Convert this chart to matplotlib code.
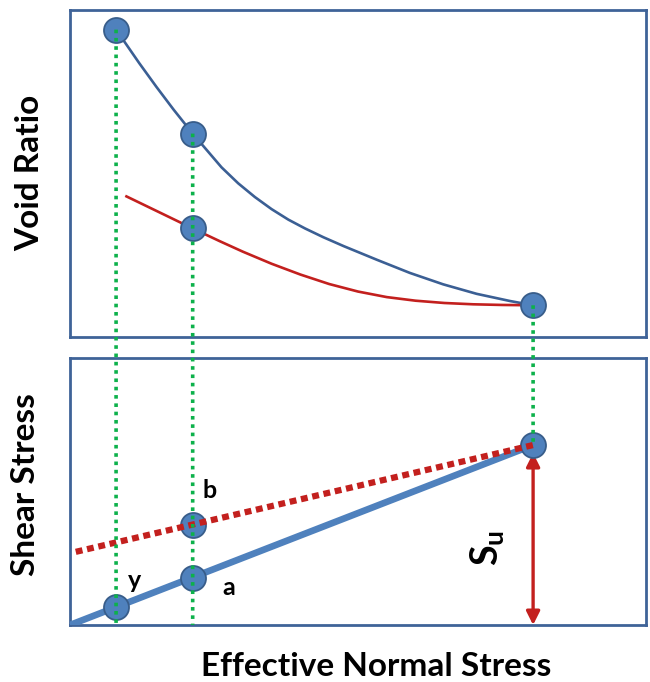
import matplotlib
matplotlib.use("Agg")
import matplotlib.pyplot as plt
from matplotlib.patches import ConnectionPatch

plt.rcParams["font.family"] = ["Lato", "DejaVu Sans"]
plt.rcParams["mathtext.fontset"] = "custom"
plt.rcParams["mathtext.bf"] = "Lato:bold"
plt.rcParams["mathtext.rm"] = "Lato:bold"

# Normal compression line (void ratio vs effective normal stress)
ncl_stress = [0.8, 1.2, 1.5, 1.8, 2.13, 2.63, 2.92, 3.21, 3.5, 3.79, 4.08,
              4.4, 4.75, 5.33, 5.9, 6.48, 7.06, 7.64, 8.04]
ncl_void = [0.94, 0.838, 0.765, 0.695, 0.622, 0.519, 0.470, 0.428, 0.391, 0.359, 0.332,
            0.305, 0.278, 0.236, 0.196, 0.161, 0.132, 0.110, 0.097]

# Unload/reload line
url_stress = [0.98, 2.13, 2.6, 3.0, 3.5, 4.0, 4.5, 5.0, 5.5, 6.0, 6.5, 7.0, 7.5, 8.04]
url_void = [0.43, 0.332, 0.293, 0.261, 0.224, 0.191, 0.162, 0.139, 0.122, 0.111,
            0.104, 0.100, 0.098, 0.097]

# States marked on the void ratio plot
state_stress = [0.8, 2.13, 2.13, 8.04]
state_void = [0.94, 0.622, 0.332, 0.097]

# Failure envelopes
env_stress = [0.0, 8.04]
env_shear = [0.0, 0.674]
od_stress = [0.1, 8.04]
od_shear = [0.274, 0.674]

# Points on the shear stress plot
pt_labels = ["y", "a", "b"]
pt_stress = [0.8, 2.13, 2.13]
pt_shear = [0.067, 0.176, 0.375]
su_stress = 8.04
su_shear = 0.674

BLUE_DARK = "#3B5F94"
BLUE = "#4F81BD"
RED = "#C3201E"
GREEN = "#0DB14B"
FRAME = "#3F6398"

fig = plt.figure(figsize=(6.5, 6.82), dpi=100)
ax1 = fig.add_axes([70 / 650, 1 - 337 / 682, 576 / 650, 327 / 682])
ax2 = fig.add_axes([70 / 650, 1 - 625 / 682, 576 / 650, 267 / 682])

for ax in (ax1, ax2):
    ax.set_xlim(0, 10)
    ax.set_ylim(0, 1)
    ax.set_xticks([])
    ax.set_yticks([])
    for s in ax.spines.values():
        s.set_color(FRAME)
        s.set_linewidth(2.0)

marker_kw = dict(marker="o", ms=18, mfc=BLUE, mec="#385D8A", mew=1.3, ls="none", zorder=5)

# Top panel: void ratio
ax1.plot(ncl_stress, ncl_void, color=BLUE_DARK, lw=1.9, solid_joinstyle="round", zorder=3)
ax1.plot(url_stress, url_void, color=RED, lw=1.9, solid_joinstyle="round", zorder=3)
ax1.plot(state_stress, state_void, **marker_kw)

# Bottom panel: shear stress
ax2.plot(env_stress, env_shear, color=BLUE, lw=4.8, solid_capstyle="butt", zorder=3)
ax2.plot(pt_stress[:2], pt_shear[:2], **marker_kw)
ax2.plot([pt_stress[2]], [pt_shear[2]], **marker_kw)
ax2.plot([su_stress], [su_shear], **marker_kw)
ax2.plot(od_stress, od_shear, color=RED, lw=4.5, ls=(0, (1.1, 0.75)),
         dash_capstyle="butt", zorder=6)

offsets = {"y": (13, 19), "a": (26, -7), "b": (12, 25)}
for lab, xs, ys in zip(pt_labels, pt_stress, pt_shear):
    ax2.annotate(lab, (xs, ys), xytext=offsets[lab], textcoords="offset points",
                 ha="center", va="center", fontsize=18, fontweight="bold", zorder=8)

# Undrained strength arrow
ax2.annotate("", xy=(su_stress, su_shear - 0.03), xytext=(su_stress, 0.0),
             arrowprops=dict(arrowstyle="<|-|>", color=RED, lw=2.4,
                             mutation_scale=20, shrinkA=0, shrinkB=0), zorder=4)
ax2.text(su_stress - 0.8, su_shear * 0.43, r"$\mathbf{S_u}$", rotation=90,
         ha="center", va="center", fontsize=27, zorder=8)

# Projection lines linking the two panels
for xs, ye, yb in [(state_stress[0], state_void[0], 0.0),
                   (state_stress[1], state_void[1], 0.0),
                   (state_stress[3], state_void[3], su_shear)]:
    cp = ConnectionPatch(xyA=(xs, ye), coordsA="data", axesA=ax1,
                         xyB=(xs, yb), coordsB="data", axesB=ax2,
                         color=GREEN, lw=2.6, linestyle=(0, (1.0, 1.3)),
                         capstyle="butt", zorder=10)
    fig.add_artist(cp)

fig.text(30 / 650, 1 - 173 / 682, "Void Ratio", rotation=90, ha="center", va="center",
         fontsize=24, fontweight="bold")
fig.text(26 / 650, 1 - 485 / 682, "Shear Stress", rotation=90, ha="center", va="center",
         fontsize=24, fontweight="bold")
fig.text(376 / 650, 1 - 666 / 682, "Effective Normal Stress", ha="center", va="center",
         fontsize=24, fontweight="bold")

fig.savefig("out.png", dpi=100)
